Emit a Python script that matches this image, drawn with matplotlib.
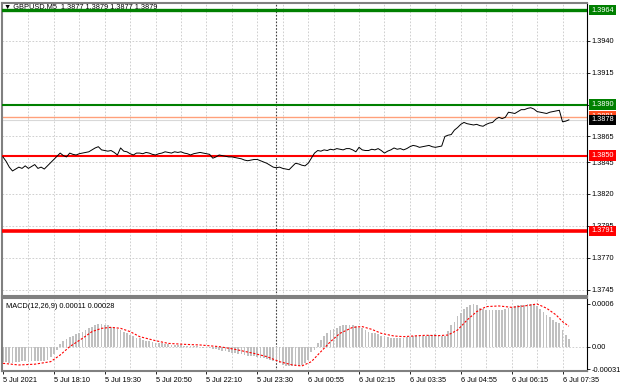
import matplotlib
matplotlib.use("Agg")
import matplotlib.pyplot as plt
import numpy as np

plt.rcParams['font.family'] = ['Liberation Sans', 'DejaVu Sans']

# GBPUSD M5 closes, one per bar (5 Jul 16:50 .. 6 Jul 07:45)
close = [
    1.38490, 1.38455, 1.38410, 1.38380, 1.38395, 1.38410, 1.38400, 1.38420, 1.38400, 1.38415,
    1.38430, 1.38400, 1.38410, 1.38395, 1.38420, 1.38445, 1.38470, 1.38495, 1.38520, 1.38500,
    1.38490, 1.38520, 1.38510, 1.38505, 1.38515, 1.38520, 1.38525, 1.38530, 1.38545, 1.38560,
    1.38570, 1.38545, 1.38540, 1.38535, 1.38540, 1.38525, 1.38505, 1.38560, 1.38535, 1.38530,
    1.38515, 1.38505, 1.38520, 1.38520, 1.38515, 1.38525, 1.38520, 1.38510, 1.38505, 1.38515,
    1.38520, 1.38530, 1.38525, 1.38520, 1.38530, 1.38525, 1.38530, 1.38520, 1.38515, 1.38505,
    1.38515, 1.38520, 1.38525, 1.38520, 1.38515, 1.38510, 1.38480, 1.38490, 1.38505, 1.38500,
    1.38495, 1.38490, 1.38490, 1.38485, 1.38480, 1.38475, 1.38465, 1.38460, 1.38465, 1.38470,
    1.38470, 1.38460, 1.38450, 1.38440, 1.38425, 1.38410, 1.38405, 1.38410, 1.38400, 1.38395,
    1.38390, 1.38415, 1.38440, 1.38435, 1.38425, 1.38420, 1.38440, 1.38480, 1.38520, 1.38540,
    1.38535, 1.38545, 1.38540, 1.38550, 1.38545, 1.38555, 1.38550, 1.38545, 1.38555, 1.38555,
    1.38545, 1.38530, 1.38565, 1.38545, 1.38540, 1.38540, 1.38550, 1.38545, 1.38555, 1.38540,
    1.38520, 1.38535, 1.38545, 1.38560, 1.38550, 1.38555, 1.38545, 1.38555, 1.38570, 1.38580,
    1.38575, 1.38565, 1.38570, 1.38575, 1.38580, 1.38570, 1.38565, 1.38570, 1.38575, 1.38650,
    1.38660, 1.38665, 1.38700, 1.38720, 1.38745, 1.38760, 1.38750, 1.38745, 1.38740, 1.38745,
    1.38735, 1.38730, 1.38745, 1.38755, 1.38760, 1.38785, 1.38800, 1.38790, 1.38800, 1.38840,
    1.38835, 1.38830, 1.38845, 1.38860, 1.38860, 1.38870, 1.38875, 1.38865, 1.38845, 1.38840,
    1.38835, 1.38830, 1.38840, 1.38845, 1.38850, 1.38855, 1.38765, 1.38770, 1.38780,
]

# MACD(12,26,9) main histogram
macd_main = [
    -0.00021, -0.00021, -0.00022, -0.00022, -0.00021, -0.00021, -0.00020, -0.00020, -0.00021, -0.00020,
    -0.00020, -0.00020, -0.00019, -0.00019, -0.00018, -0.00014, -0.00010, -0.00004, 0.00004, 0.00008,
    0.00011, 0.00014, 0.00016, 0.00018, 0.00020, 0.00021, 0.00023, 0.00026, 0.00028, 0.00030,
    0.00032, 0.00032, 0.00031, 0.00030, 0.00028, 0.00026, 0.00025, 0.00023, 0.00021, 0.00019,
    0.00017, 0.00015, 0.00013, 0.00012, 0.00010, 0.00009, 0.00008, 0.00007, 0.00006, 0.00005,
    0.00005, 0.00004, 0.00004, 0.00003, 0.00003, 0.00003, 0.00003, 0.00002, 0.00002, 0.00002,
    0.00001, 0.00001, 0.00000, -0.00001, -0.00001, -0.00002, -0.00003, -0.00003, -0.00004, -0.00005,
    -0.00006, -0.00007, -0.00008, -0.00009, -0.00010, -0.00010, -0.00011, -0.00012, -0.00013, -0.00013,
    -0.00014, -0.00015, -0.00016, -0.00017, -0.00018, -0.00019, -0.00020, -0.00022, -0.00025, -0.00027,
    -0.00027, -0.00027, -0.00026, -0.00026, -0.00025, -0.00022, -0.00018, -0.00007, -0.00004, 0.00005,
    0.00010, 0.00015, 0.00019, 0.00023, 0.00025, 0.00027, 0.00029, 0.00030, 0.00030, 0.00030,
    0.00030, 0.00029, 0.00027, 0.00026, 0.00024, 0.00021, 0.00020, 0.00019, 0.00018, 0.00016,
    0.00015, 0.00014, 0.00013, 0.00012, 0.00012, 0.00013, 0.00013, 0.00014, 0.00014, 0.00015,
    0.00015, 0.00016, 0.00016, 0.00016, 0.00017, 0.00017, 0.00018, 0.00017, 0.00016, 0.00016,
    0.00022, 0.00030, 0.00035, 0.00043, 0.00048, 0.00053, 0.00056, 0.00058, 0.00060, 0.00058,
    0.00055, 0.00053, 0.00052, 0.00052, 0.00052, 0.00052, 0.00052, 0.00052, 0.00053, 0.00054,
    0.00055, 0.00057, 0.00058, 0.00059, 0.00059, 0.00060, 0.00060, 0.00060, 0.00057, 0.00053,
    0.00049, 0.00045, 0.00042, 0.00038, 0.00035, 0.00033, 0.00024, 0.00017, 0.00011,
]

# signal line, read at these bars
signal_bar = [0, 5, 10, 15, 18, 21, 25, 28, 31, 34, 37, 40, 43, 48, 52, 57, 62, 68, 73, 79,
              83, 87, 91, 94, 97, 100, 103, 106, 110, 113, 116, 119, 123, 126, 129, 133, 137,
              140, 143, 146, 149, 152, 156, 160, 164, 168, 171, 174, 176, 178]
signal_val = [-0.000228, -0.000251, -0.00024, -0.000205, -0.000112, 0.000005, 0.00012, 0.000214,
              0.00026, 0.000274, 0.00026, 0.000214, 0.000144, 0.000088, 0.00005, 0.000037, 0.000028,
              0.000005, -0.000033, -0.00009, -0.000135, -0.000205, -0.00025, -0.000265, -0.000205,
              -0.000065, 0.000074, 0.00019, 0.000274, 0.000284, 0.000246, 0.00019, 0.000153,
              0.000144, 0.000153, 0.000163, 0.000158, 0.000167, 0.000237, 0.000377, 0.000493,
              0.000563, 0.000572, 0.000553, 0.000572, 0.0006, 0.00054, 0.000446, 0.000353, 0.00029]

time_labels = ['5 Jul 2021', '5 Jul 18:10', '5 Jul 19:30', '5 Jul 20:50', '5 Jul 22:10',
               '5 Jul 23:30', '6 Jul 00:55', '6 Jul 02:15', '6 Jul 03:35', '6 Jul 04:55',
               '6 Jul 06:15', '6 Jul 07:35']
time_label_bar = [0, 16, 32, 48, 64, 80, 96, 112, 128, 144, 160, 176]
day_sep_bar = 86

price_ticks = [1.3940, 1.3915, 1.3890, 1.3865, 1.3845, 1.3820, 1.3795, 1.3770, 1.3745]
macd_ticks = [0.0006, 0.0, -0.00031]
macd_tick_labels = ['0.0006', '0.00', '-0.00031']

# horizontal levels: (price, colour, width)
levels = [(1.3964, '#008000', 2.4), (1.3890, '#008000', 1.5),
          (1.3850, '#ff0000', 1.5), (1.3791, '#ff0000', 2.6)]
ask, bid = 1.38805, 1.3878

W, H = 620, 388
fig = plt.figure(figsize=(W / 100, H / 100), dpi=100)
fig.patch.set_facecolor('white')
ax = fig.add_axes([2 / W, (H - 296) / H, 585 / W, 293 / H])
ax2 = fig.add_axes([2 / W, (H - 371) / H, 585 / W, 73 / H], sharex=ax)

x = np.arange(len(close))
fs = 5.3
grid_kw = dict(color='#c8c8c8', linewidth=0.6, linestyle=(0, (2, 2)), zorder=0)

# main window
ax.plot(x, close, color='black', linewidth=0.7, zorder=4)
for price, col, lw in levels:
    ax.axhline(price, color=col, linewidth=lw, zorder=3)
ax.axhline(ask, color='#ffa07a', linewidth=1.0, zorder=2)
ax.axhline(bid, color='#d8d8d8', linewidth=0.8, zorder=2)
ax.set_xlim(-0.3, 183.7)
ax.set_ylim(1.37401, 1.39695)
ax.set_yticks(price_ticks)
ax.set_yticklabels([f'{t:.4f}' for t in price_ticks])
for t in price_ticks:
    ax.axhline(t, **grid_kw)

# indicator window
ax2.bar(x, macd_main, width=0.55, color='#c0c0c0', zorder=2)
ax2.plot(signal_bar, signal_val, color='#ff0000', linewidth=0.8,
         linestyle=(0, (2, 1.5)), zorder=3)
ax2.axhline(0, **grid_kw)
ax2.set_ylim(-0.000335, 0.000683)
ax2.set_yticks(macd_ticks)
ax2.set_yticklabels(macd_tick_labels)
ax2.text(0.006, 0.88, 'MACD(12,26,9) 0.00011 0.00028', transform=ax2.transAxes,
         fontsize=fs, va='center', ha='left', color='black')

for a in (ax, ax2):
    for b in range(8, 184, 8):
        a.axvline(b, **grid_kw)
    a.axvline(day_sep_bar, color='#404040', linewidth=0.8, linestyle=(0, (1.5, 1.5)), zorder=1)
    a.yaxis.tick_right()
    a.tick_params(axis='y', labelsize=fs, length=2, width=0.6, pad=1.5, colors='black')
    for s in ('left', 'top', 'bottom'):
        a.spines[s].set_color('#808080')
        a.spines[s].set_linewidth(1.5)
    a.spines['right'].set_color('black')
    a.spines['right'].set_linewidth(0.8)

ax.tick_params(axis='x', bottom=False, labelbottom=False)
ax2.set_xticks(time_label_bar)
ax2.set_xticklabels(time_labels, ha='left')
ax2.tick_params(axis='x', labelsize=fs, length=2.5, width=0.6, pad=1.5, colors='black')

# price boxes on the right scale
boxes = [(1.3964, '1.3964', '#008000'), (1.3890, '1.3890', '#008000'),
         (ask, '1.3881', '#ff4b1e'), (bid, '1.3878', '#000000'),
         (1.3850, '1.3850', '#ff0000'), (1.3791, '1.3791', '#ff0000')]
for val, txt, col in boxes:
    ax.annotate(txt, xy=(1.0, val), xycoords=('axes fraction', 'data'),
                xytext=(3.0, 0), textcoords='offset points', ha='left', va='center',
                fontsize=fs, color='white', annotation_clip=False, zorder=10,
                bbox=dict(boxstyle='square,pad=0.25', facecolor=col, edgecolor='none'))

# symbol line at top left
ax.text(0.004, 0.987, '\u25bc GBPUSD,M5  1.3877 1.3879 1.3877 1.3879', transform=ax.transAxes,
        fontsize=fs, va='center', ha='left', color='black', zorder=1)

fig.savefig('out.png', dpi=100)
